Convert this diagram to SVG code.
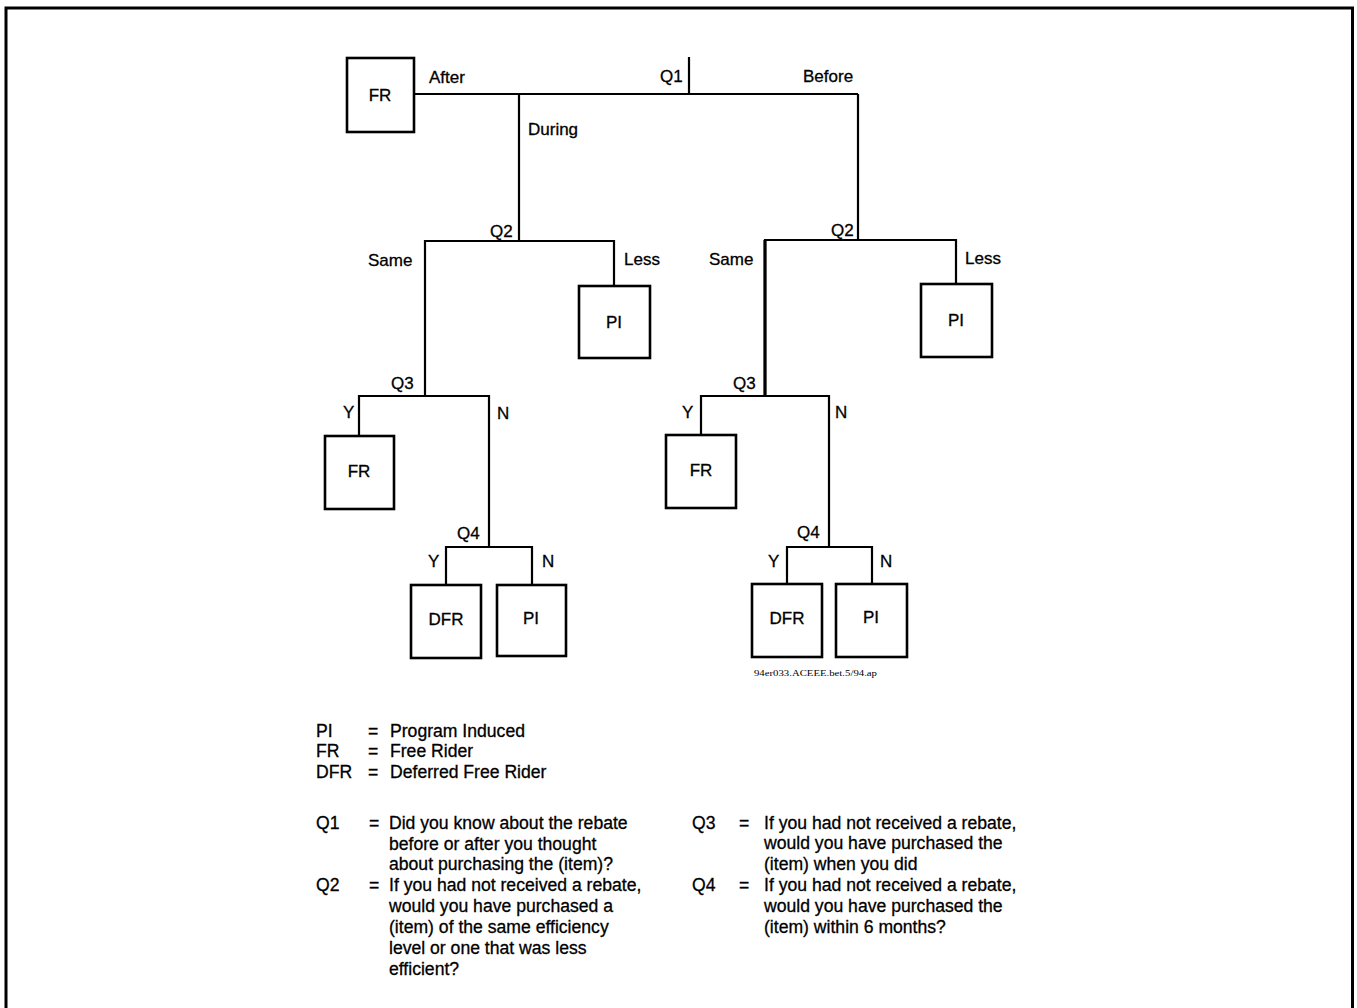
<svg xmlns="http://www.w3.org/2000/svg" width="1357" height="1008" viewBox="0 0 1357 1008">
<style>
.t{font-family:"Liberation Sans",Arial,sans-serif;font-size:17px;fill:#000;stroke:#000;stroke-width:0.3}
.b{font-family:"Liberation Sans",Arial,sans-serif;font-size:17px;fill:#000;text-anchor:middle;stroke:#000;stroke-width:0.3}
.lg{font-family:"Liberation Sans",Arial,sans-serif;font-size:17.6px;fill:#000;stroke:#000;stroke-width:0.3}
.box{fill:#fff;stroke:#000;stroke-width:2.6}
.ln{fill:none;stroke:#000;stroke-width:2.2}
</style>
<rect width="1357" height="1008" fill="#fff"/>
<path d="M6,1008 V8 H1352.5 V1008" fill="none" stroke="#000" stroke-width="3"/>
<g id="connectors" class="ln">
<path d="M414,94 H858 M689,57 V94 M519,94 V241 M858,94 V240"/>
<path d="M425,396 V241 H614 V286"/>
<path d="M359,436 V396 H489 V547 M446,585 V547 H532 V585"/>
<path d="M765,396 V240 H956 V284"/>
<path d="M701,435 V396 H829 V547 M787,584 V547 H872 V584"/>
<path d="M765,240 V396" stroke-width="3.2"/>
</g>
<g id="labels">
<text class="t" x="429" y="83">After</text>
<text class="t" x="660" y="82">Q1</text>
<text class="t" x="803" y="82">Before</text>
<text class="t" x="528" y="135">During</text>
<text class="t" x="490" y="237">Q2</text>
<text class="t" x="368" y="266">Same</text>
<text class="t" x="624" y="265">Less</text>
<text class="t" x="391" y="389">Q3</text>
<text class="t" x="343" y="418">Y</text>
<text class="t" x="497" y="419">N</text>
<text class="t" x="457" y="539">Q4</text>
<text class="t" x="428" y="567">Y</text>
<text class="t" x="542" y="567">N</text>
<text class="t" x="831" y="236">Q2</text>
<text class="t" x="709" y="265">Same</text>
<text class="t" x="965" y="264">Less</text>
<text class="t" x="733" y="389">Q3</text>
<text class="t" x="682" y="418">Y</text>
<text class="t" x="835" y="418">N</text>
<text class="t" x="797" y="538">Q4</text>
<text class="t" x="768" y="567">Y</text>
<text class="t" x="880" y="567">N</text>
</g>
<g id="n-fr-top"><rect class="box" x="347" y="58" width="67" height="74"/><text class="b" x="380" y="101">FR</text></g>
<g id="n-pi-l1"><rect class="box" x="579" y="286" width="71" height="72"/><text class="b" x="614" y="328">PI</text></g>
<g id="n-fr-l2"><rect class="box" x="325" y="436" width="69" height="73"/><text class="b" x="359" y="477">FR</text></g>
<g id="n-dfr-l"><rect class="box" x="411" y="585" width="70" height="73"/><text class="b" x="446" y="625">DFR</text></g>
<g id="n-pi-l2"><rect class="box" x="497" y="585" width="69" height="71"/><text class="b" x="531" y="624">PI</text></g>
<g id="n-pi-r1"><rect class="box" x="921" y="284" width="71" height="73"/><text class="b" x="956" y="326">PI</text></g>
<g id="n-fr-r2"><rect class="box" x="666" y="435" width="70" height="73"/><text class="b" x="701" y="476">FR</text></g>
<g id="n-dfr-r"><rect class="box" x="752" y="584" width="70" height="73"/><text class="b" x="787" y="624">DFR</text></g>
<g id="n-pi-r2"><rect class="box" x="836" y="584" width="71" height="73"/><text class="b" x="871" y="623">PI</text></g>
<text x="754" y="676" font-family="'Liberation Serif','Times New Roman',serif" font-size="7.5" textLength="123" lengthAdjust="spacingAndGlyphs">94er033.ACEEE.bet.5/94.ap</text>
<g id="legend" class="lg">
<text x="316" y="737">PI</text><text x="368" y="737">=</text><text x="390" y="737">Program Induced</text>
<text x="316" y="757">FR</text><text x="368" y="757">=</text><text x="390" y="757">Free Rider</text>
<text x="316" y="778">DFR</text><text x="368" y="778">=</text><text x="390" y="778">Deferred Free Rider</text>
<text x="316" y="829">Q1</text><text x="369" y="829">=</text>
<text x="389" y="829">Did you know about the rebate</text>
<text x="389" y="850">before or after you thought</text>
<text x="389" y="870">about purchasing the (item)?</text>
<text x="316" y="891">Q2</text><text x="369" y="891">=</text>
<text x="389" y="891">If you had not received a rebate,</text>
<text x="389" y="912">would you have purchased a</text>
<text x="389" y="933">(item) of the same efficiency</text>
<text x="389" y="954">level or one that was less</text>
<text x="389" y="975">efficient?</text>
<text x="692" y="829">Q3</text><text x="739" y="829">=</text>
<text x="764" y="829">If you had not received a rebate,</text>
<text x="764" y="849">would you have purchased the</text>
<text x="764" y="870">(item) when you did</text>
<text x="692" y="891">Q4</text><text x="739" y="891">=</text>
<text x="764" y="891">If you had not received a rebate,</text>
<text x="764" y="912">would you have purchased the</text>
<text x="764" y="933">(item) within 6 months?</text>
</g>
</svg>
